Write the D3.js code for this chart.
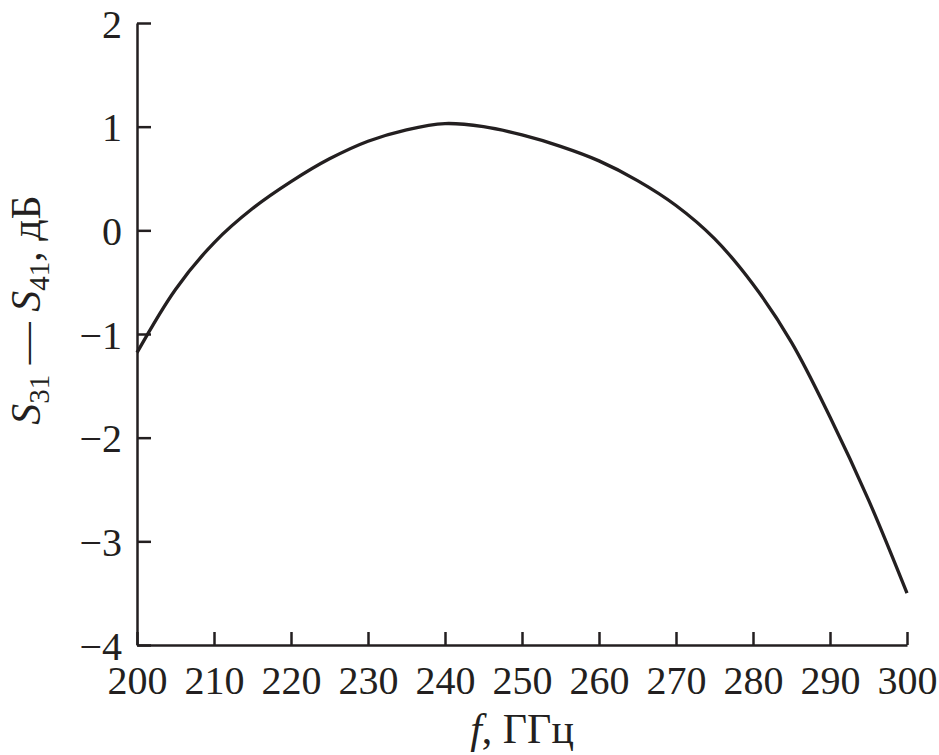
<!DOCTYPE html>
<html>
<head>
<meta charset="utf-8">
<script src="https://cdn.jsdelivr.net/npm/d3@7"></script>
<style>
  body { margin: 0; background: #fff; }
  text { font-family: "Liberation Serif", "DejaVu Serif", serif; fill: #231f20; }
</style>
</head>
<body>
<svg id="chart" width="939" height="755"></svg>
<script>
const freq = [200, 205, 210, 215, 220, 225, 230, 235, 240, 245, 250, 255, 260, 265, 270, 275, 280, 285, 290, 295, 300];
const diff = [-1.18, -0.57, -0.12, 0.21, 0.47, 0.69, 0.86, 0.97, 1.03, 1.00, 0.92, 0.81, 0.67, 0.48, 0.24, -0.08, -0.52, -1.08, -1.80, -2.60, -3.50];
const xTicks = [200, 210, 220, 230, 240, 250, 260, 270, 280, 290, 300];
const yTicks = [-4, -3, -2, -1, 0, 1, 2];

const svg = d3.select("#chart");
const x = d3.scaleLinear().domain([200, 300]).range([137, 907]);
const y = d3.scaleLinear().domain([-4, 2]).range([645, 23]);
const ink = "#231f20";

const fmt = d => d < 0 ? "\u2212" + Math.abs(d) : String(d);

const xAxis = svg.append("g").attr("transform", "translate(0,645)")
  .call(d3.axisBottom(x).tickValues(xTicks).tickSizeInner(-13).tickSizeOuter(0).tickPadding(25).tickFormat(d => d));
const yAxis = svg.append("g").attr("transform", "translate(137,0)")
  .call(d3.axisLeft(y).tickValues(yTicks).tickSizeInner(-14).tickSizeOuter(0).tickPadding(15).tickFormat(fmt));

[xAxis, yAxis].forEach(g => {
  g.select(".domain").attr("stroke", ink).attr("stroke-width", 2.5);
  g.selectAll(".tick line").attr("stroke", ink).attr("stroke-width", 2.5);
  g.selectAll(".tick text").attr("font-size", 40).attr("fill", ink)
    .style("font-family", "'Liberation Serif', serif");
});
xAxis.selectAll(".tick text").attr("dy", "0.71em").attr("y", 21);
yAxis.selectAll(".tick text").attr("dy", "0.35em");

const line = d3.line().x((d, i) => x(freq[i])).y(d => y(d)).curve(d3.curveCatmullRom.alpha(0.5));
svg.append("path").datum(diff).attr("d", line)
  .attr("fill", "none").attr("stroke", ink).attr("stroke-width", 3.3).attr("stroke-linejoin", "round");

// x label
const xl = svg.append("text").attr("x", 522).attr("y", 743).attr("text-anchor", "middle").attr("font-size", 42);
xl.append("tspan").attr("font-style", "italic").text("f");
xl.append("tspan").text(", ГГц");

// y label
const yl = svg.append("text").attr("transform", "translate(40,310) rotate(-90)")
  .attr("text-anchor", "middle").attr("font-size", 42);
yl.append("tspan").attr("font-style", "italic").text("S");
yl.append("tspan").attr("font-size", 29).attr("dy", 9).text("31");
yl.append("tspan").attr("dy", -9).text(" \u2014 ");
yl.append("tspan").attr("font-style", "italic").text("S");
yl.append("tspan").attr("font-size", 29).attr("dy", 9).text("41");
yl.append("tspan").attr("dy", -9).text(", дБ");
</script>
</body>
</html>
